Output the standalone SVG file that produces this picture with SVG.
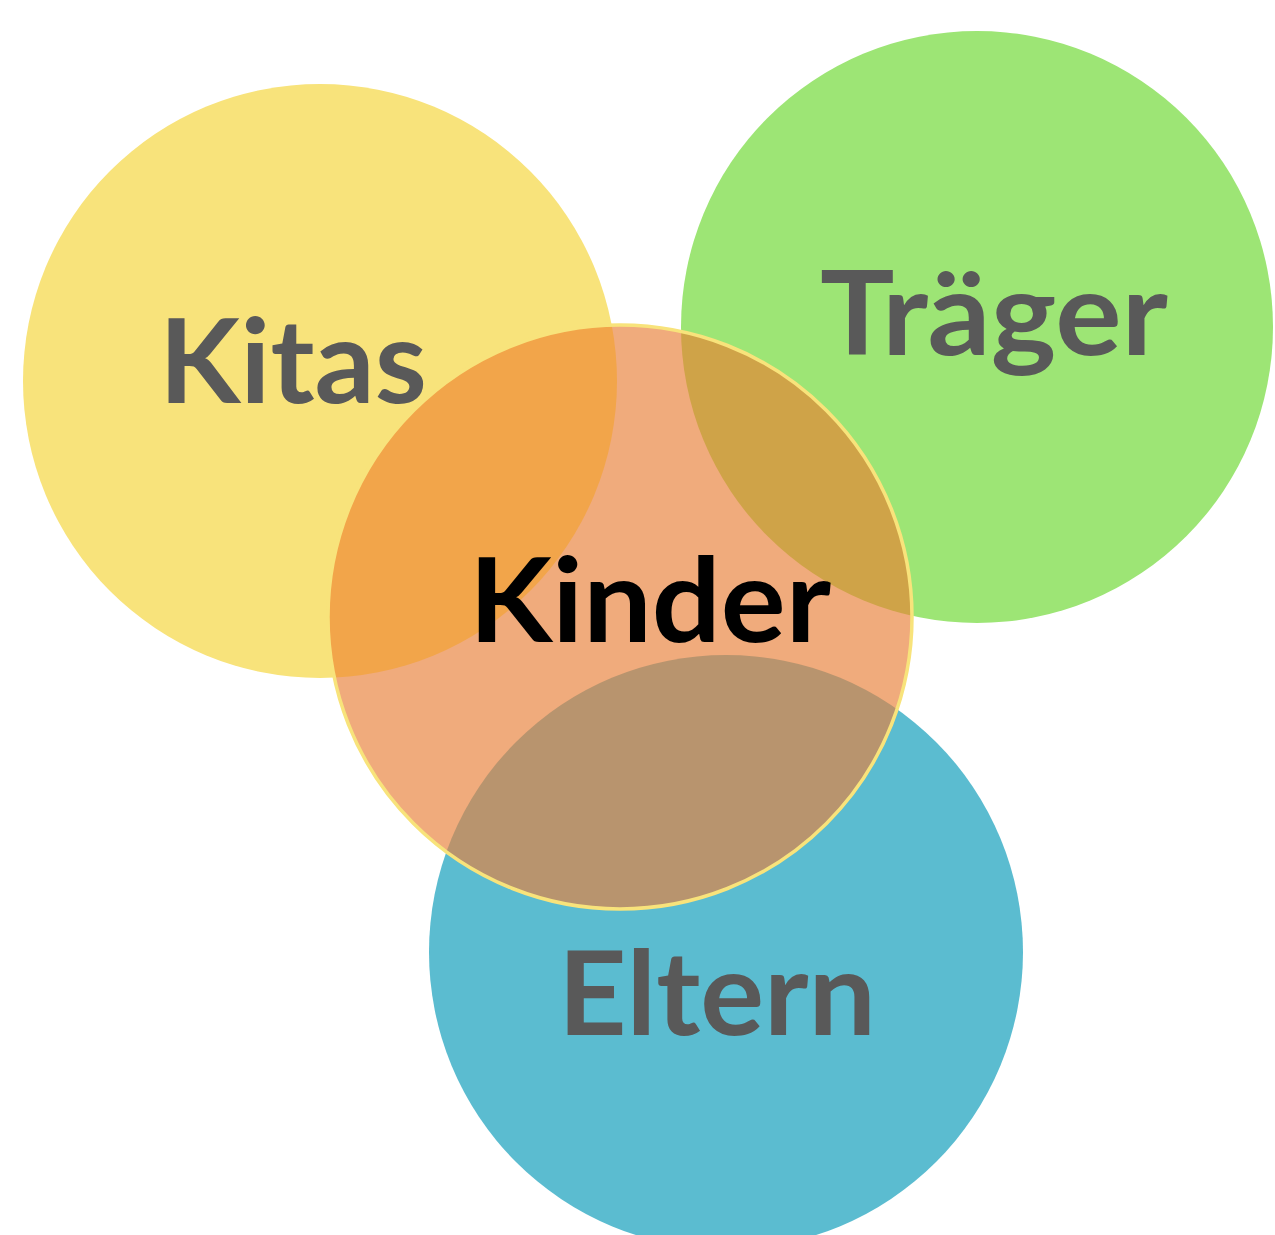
<svg xmlns="http://www.w3.org/2000/svg" width="1275" height="1235" viewBox="0 0 1275 1235">
<style>
.lbl{font-family:Lato,"Open Sans","Liberation Sans",sans-serif;font-weight:bold;font-size:117px;text-anchor:middle}
.grey{fill:#595959}
</style>
<defs>
<clipPath id="kclip"><circle cx="620" cy="617" r="292"/></clipPath>
</defs>
<rect width="1275" height="1235" fill="#ffffff"/>
<g id="kitas"><circle cx="320" cy="381" r="297" fill="#F8E37B"/></g>
<g id="traeger"><circle cx="977" cy="327" r="296" fill="#9DE575"/></g>
<g id="eltern"><circle cx="726" cy="952" r="297" fill="#5BBCD0"/></g>
<g id="kinder">
<circle cx="620" cy="617" r="292" fill="#F0AB7C"/>
<g clip-path="url(#kclip)">
<circle cx="320" cy="381" r="297" fill="#F2A54A"/>
<circle cx="977" cy="327" r="296" fill="#CFA348"/>
<circle cx="726" cy="952" r="297" fill="#B8946E"/>
</g>
<circle cx="620" cy="617" r="292" fill="none" stroke="#F8E37B" stroke-width="3.5"/>
</g>
<g id="labels">
<text class="lbl grey" x="293" y="403" textLength="268" lengthAdjust="spacingAndGlyphs">Kitas</text>
<text class="lbl grey" x="994" y="355" textLength="348" lengthAdjust="spacingAndGlyphs">Träger</text>
<text class="lbl" x="650" y="642" fill="#000000" textLength="362" lengthAdjust="spacingAndGlyphs">Kinder</text>
<text class="lbl grey" x="717" y="1035" textLength="318" lengthAdjust="spacingAndGlyphs">Eltern</text>
</g>
</svg>
